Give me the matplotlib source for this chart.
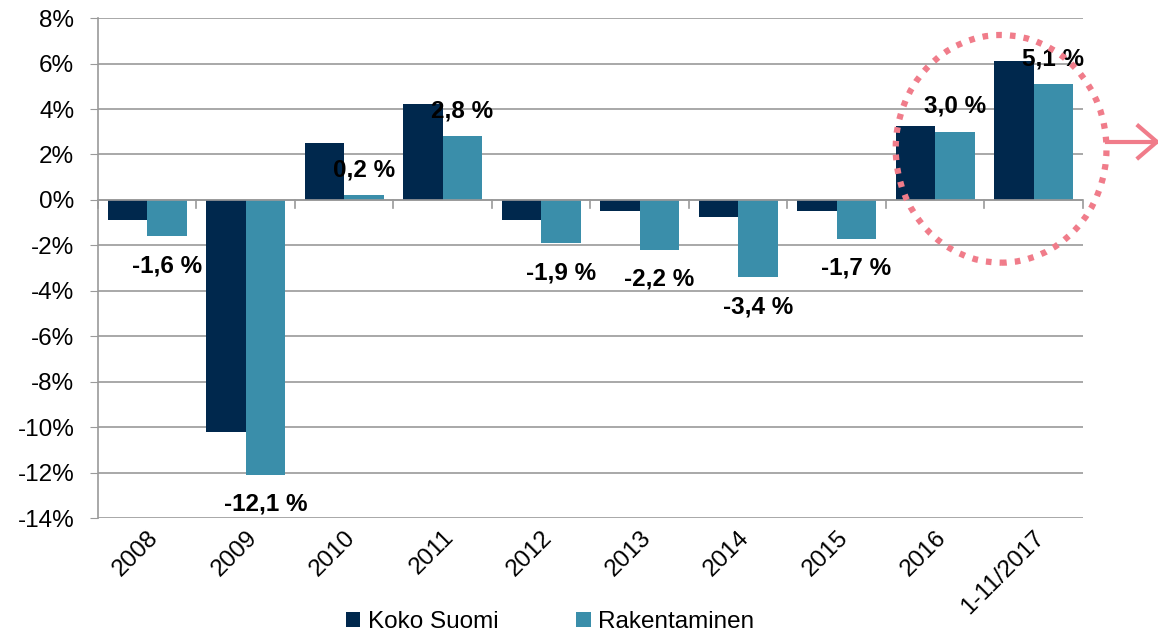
import matplotlib.pyplot as plt
from matplotlib.patches import Ellipse
import numpy as np

plt.rcParams['font.family'] = ['Liberation Sans', 'DejaVu Sans']

# data
years = ['2008', '2009', '2010', '2011', '2012', '2013', '2014', '2015', '2016', '1-11/2017']
koko_suomi = [-0.9, -10.2, 2.5, 4.2, -0.9, -0.5, -0.75, -0.5, 3.25, 6.1]
rakentaminen = [-1.6, -12.1, 0.2, 2.8, -1.9, -2.2, -3.4, -1.7, 3.0, 5.1]
yticks = [8, 6, 4, 2, 0, -2, -4, -6, -8, -10, -12, -14]

dark = '#00284d'
teal = '#3a8eaa'
fs = 17.5

fig = plt.figure(figsize=(11.58, 6.36), dpi=100)
ax = fig.add_axes([0.0846, 0.1855, 0.8506, 0.786])

x = np.arange(len(years))
w = 0.4
ax.bar(x - w / 2, koko_suomi, w, color=dark, label='Koko Suomi', zorder=3)
ax.bar(x + w / 2, rakentaminen, w, color=teal, label='Rakentaminen', zorder=3)

ax.set_xlim(-0.5, len(years) - 0.5)
ax.set_ylim(-14, 8)
ax.set_yticks(yticks)
ax.set_yticklabels(['%d%%' % v for v in yticks], fontsize=fs)
ax.yaxis.grid(True, color='#9a9a9a', linewidth=1.2, zorder=0)
ax.tick_params(axis='y', length=6, color='#9a9a9a', pad=11)

ax.set_xticks(x)
ax.set_xticklabels(years, fontsize=fs, rotation=45, ha='right', rotation_mode='anchor')
ax.tick_params(axis='x', length=0, pad=6)

for s in ['top', 'right', 'bottom']:
    ax.spines[s].set_visible(False)
ax.spines['left'].set_color('#9a9a9a')
ax.spines['left'].set_linewidth(1.2)

# zero line with category ticks
ax.axhline(0, color='#9a9a9a', linewidth=1.2, zorder=4)
for b in np.arange(len(years) + 1) - 0.5:
    ax.plot([b, b], [0, -0.35], color='#9a9a9a', linewidth=1.2, zorder=4, clip_on=False)

# value labels above/below the Rakentaminen bars
for i, v in enumerate(rakentaminen):
    txt = ('%.1f %%' % v).replace('.', ',')
    if v < 0:
        ax.annotate(txt, (x[i] + w / 2, v), xytext=(0, -13), textcoords='offset points',
                    ha='center', va='top', fontsize=fs, fontweight='bold', zorder=6)
    else:
        ax.annotate(txt, (x[i] + w / 2, v), xytext=(0, 10), textcoords='offset points',
                    ha='center', va='bottom', fontsize=fs, fontweight='bold', zorder=6)

# highlight circle and arrow
circ = Ellipse((0.8645, 0.766), 0.182, 0.358, transform=fig.transFigure, fill=False,
               edgecolor='#f07c8a', linewidth=4.5, linestyle=(0, (0.9, 1.3)), zorder=10)
fig.patches.append(circ)
fig.add_artist(plt.Line2D([0.956, 0.999], [0.777, 0.777], color='#f07c8a', linewidth=3))
fig.add_artist(plt.Line2D([0.983, 0.999, 0.983], [0.802, 0.777, 0.752], color='#f07c8a',
                          linewidth=3))

fig.legend(loc='lower center', bbox_to_anchor=(0.475, -0.03), ncol=2, frameon=False,
           fontsize=fs, handlelength=0.6, handleheight=0.6, handletextpad=0.3,
           columnspacing=3.2)

fig.savefig('out.png', dpi=100)
